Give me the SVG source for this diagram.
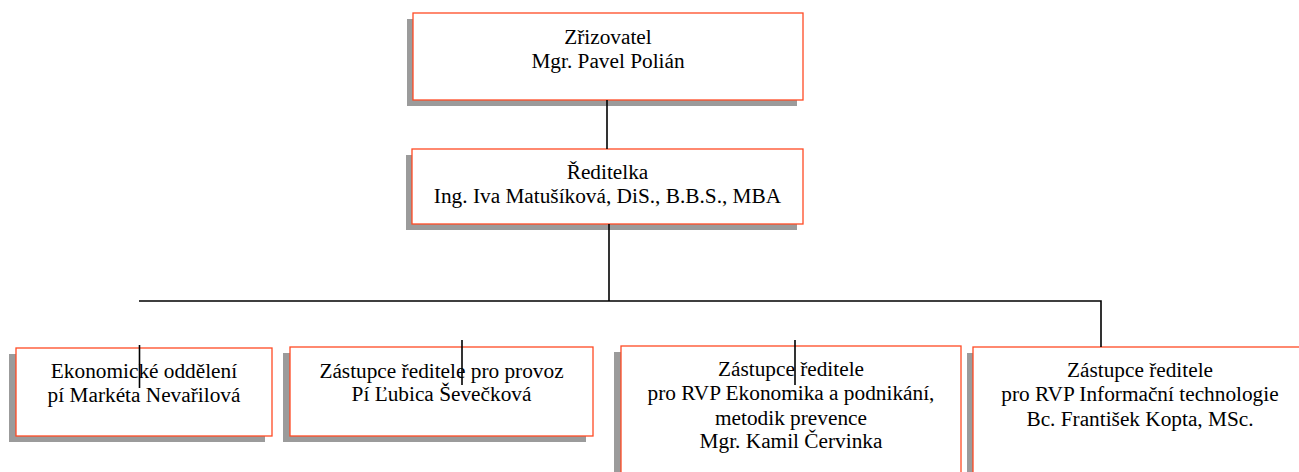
<svg xmlns="http://www.w3.org/2000/svg" width="1299" height="472" viewBox="0 0 1299 472">
<style>
.sh{fill:#9b9b9b;stroke:none}
.bx{fill:#ffffff;stroke:#ff4a24;stroke-width:1.3}
.t{font-family:"Liberation Serif","Times New Roman",serif;font-size:21.3px;fill:#000;text-anchor:middle}
.c{stroke:#000;stroke-width:1.6;fill:none}
</style>
<rect width="1299" height="472" fill="#fff"/>
<g id="zrizovatel">
<rect class="sh" x="407" y="19" width="390" height="87"/>
<rect class="bx" x="413" y="13" width="390" height="87"/>
<text class="t" x="608" y="44">Zřizovatel</text>
<text class="t" x="608" y="68">Mgr. Pavel Polián</text>
</g>
<g id="reditelka">
<rect class="sh" x="406" y="155" width="391" height="75"/>
<rect class="bx" x="412" y="149" width="391" height="75"/>
<text class="t" x="607.5" y="179">Ředitelka</text>
<text class="t" x="607.5" y="203">Ing. Iva Matušíková, DiS., B.B.S., MBA</text>
</g>
<g id="ekonomicke">
<rect class="sh" x="9" y="354" width="256" height="88"/>
<rect class="bx" x="16" y="348" width="256" height="88"/>
<text class="t" x="144" y="378">Ekonomické oddělení</text>
<text class="t" x="144" y="402">pí Markéta Nevařilová</text>
</g>
<g id="provoz">
<rect class="sh" x="283" y="353" width="303" height="89"/>
<rect class="bx" x="290" y="347" width="303" height="89"/>
<text class="t" x="441.5" y="378">Zástupce ředitele pro provoz</text>
<text class="t" x="441.5" y="401">Pí Ľubica Ševečková</text>
</g>
<g id="ekonomika">
<rect class="sh" x="614" y="352" width="340" height="130"/>
<rect class="bx" x="621" y="346" width="340" height="130"/>
<text class="t" x="791" y="376">Zástupce  ředitele</text>
<text class="t" x="791" y="400">pro RVP Ekonomika a podnikání,</text>
<text class="t" x="791" y="425">metodik prevence</text>
<text class="t" x="791" y="448">Mgr. Kamil Červinka</text>
</g>
<g id="it">
<rect class="sh" x="967" y="353" width="334" height="130"/>
<rect class="bx" x="973" y="347" width="334" height="130"/>
<text class="t" x="1140" y="377">Zástupce ředitele</text>
<text class="t" x="1140" y="401">pro RVP Informační technologie</text>
<text class="t" x="1140" y="426">Bc. František Kopta, MSc.</text>
</g>
<g id="connectors">
<line class="c" x1="607" y1="100" x2="607" y2="149"/>
<line class="c" x1="609" y1="224" x2="609" y2="301"/>
<polyline class="c" points="139,301 1101,301 1101,347"/>
<line class="c" x1="139.5" y1="345" x2="139.5" y2="388"/>
<line class="c" x1="462" y1="340" x2="462" y2="385"/>
<line class="c" x1="795" y1="340" x2="795" y2="385"/>
</g>
</svg>
